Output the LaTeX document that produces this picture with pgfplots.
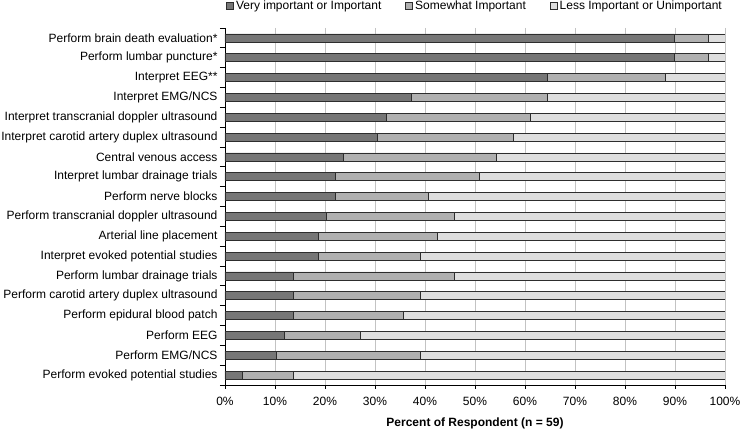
\documentclass[border=0pt]{standalone}
\usepackage{pgfplots}
\pgfplotsset{compat=1.18}
\usepackage{pgfplotstable}
\usepackage{fontspec}
\setmainfont{Liberation Sans}
\definecolor{cdark}{RGB}{118,118,118}
\definecolor{cmid}{RGB}{176,176,176}
\definecolor{clight}{RGB}{222,222,222}
\definecolor{cedge}{RGB}{45,45,45}
\definecolor{cgrid}{RGB}{195,195,195}
\pgfplotstableread{
y  vi    sw    li
1  89.8  6.8   3.4
2  89.8  6.8   3.4
3  64.4  23.7  11.9
4  37.3  27.1  35.6
5  32.2  28.8  39.0
6  30.5  27.1  42.4
7  23.7  30.5  45.8
8  22.0  28.8  49.2
9  22.0  18.7  59.3
10 20.3  25.5  54.2
11 18.6  23.8  57.6
12 18.6  20.4  61.0
13 13.6  32.2  54.2
14 13.6  25.4  61.0
15 13.6  22.0  64.4
16 11.9  15.2  72.9
17 10.2  28.8  61.0
18 3.4   10.2  86.4
}\datatable
\begin{document}
\begin{tikzpicture}
\useasboundingbox (-225pt,-45pt) rectangle (515pt,385pt);
\begin{axis}[
  scale only axis,
  width=500pt, height=357pt,
  font=\fontsize{12}{14}\selectfont,
  xbar stacked,
  bar width=8pt,
  xmin=0, xmax=100,
  ymin=0.5, ymax=18.5,
  y dir=reverse,
  axis x line*=bottom,
  axis y line*=left,
  axis line style={black, line width=0.8pt},
  xtick={0,10,...,100},
  xticklabel={\pgfmathprintnumber{\tick}\%},
  xticklabel style={yshift=-5pt},
  /pgf/number format/assume math mode=true,
  xmajorgrids,
  major grid style={cgrid, line width=0.6pt},
  tick align=outside,
  major tick length=4pt,
  minor tick length=5pt,
  xtick style={black, line width=0.8pt},
  ytick={1,...,18},
  yticklabels={Perform brain death evaluation*,Perform lumbar puncture*,Interpret EEG**,Interpret EMG/NCS,Interpret transcranial doppler ultrasound,Interpret carotid artery duplex ultrasound,Central venous access,Interpret lumbar drainage trials,Perform nerve blocks,Perform transcranial doppler ultrasound,Arterial line placement,Interpret evoked potential studies,Perform lumbar drainage trials,Perform carotid artery duplex ultrasound,Perform epidural blood patch,Perform EEG,Perform EMG/NCS,Perform evoked potential studies},
  minor ytick={0.5,1.5,...,18.5},
  major y tick style={draw=none},
  minor y tick style={black, line width=0.8pt},
  xlabel={\bfseries Percent of Respondent (n = 59)},
  xlabel style={at={(axis description cs:0.5,0)}, anchor=center, yshift=-38pt},
  legend columns=3,
  legend style={at={(0.5,1.062)}, anchor=center, draw=none, fill=none,
    /tikz/every even column/.append style={column sep=22pt}},
  legend image code/.code={\draw[#1, line width=0.8pt] (0pt,-3.5pt) rectangle (7pt,3.5pt);},
  every axis plot/.append style={draw=cedge, line width=0.6pt},
]
\addplot[fill=cdark] table[x=vi, y=y] {\datatable};
\addplot[fill=cmid] table[x=sw, y=y] {\datatable};
\addplot[fill=clight] table[x=li, y=y] {\datatable};
\legend{Very important or Important, Somewhat Important, Less Important or Unimportant}
\end{axis}
\end{tikzpicture}
\end{document}
